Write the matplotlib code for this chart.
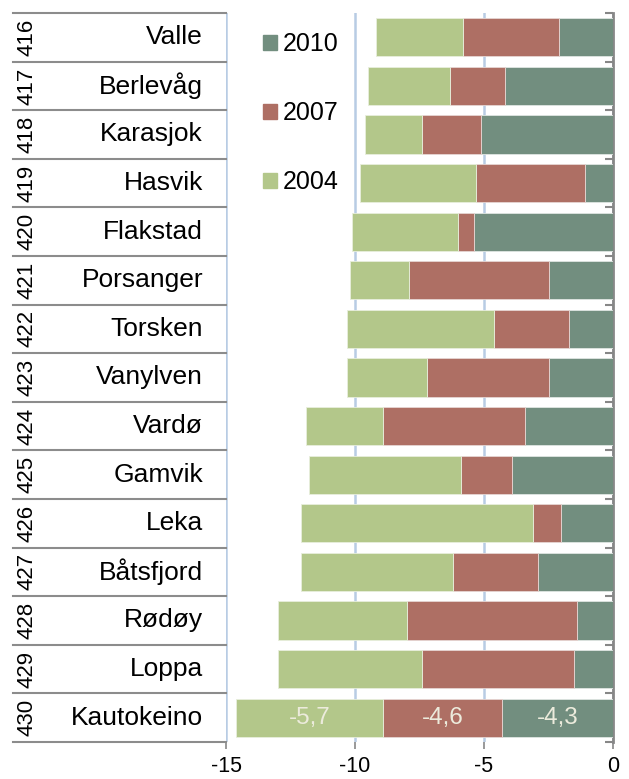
import numpy as np
import matplotlib
matplotlib.use('Agg')
import matplotlib.pyplot as plt
from matplotlib.patches import Patch

plt.rcParams['font.family'] = ['Liberation Sans', 'DejaVu Sans']

row_ids = ['416', '417', '418', '419', '420', '421', '422', '423', '424',
           '425', '426', '427', '428', '429', '430']
names = ['Valle', 'Berlevåg', 'Karasjok', 'Hasvik', 'Flakstad', 'Porsanger',
         'Torsken', 'Vanylven', 'Vardø', 'Gamvik', 'Leka', 'Båtsfjord',
         'Rødøy', 'Loppa', 'Kautokeino']
v2010 = [-2.1, -4.2, -5.1, -1.1, -5.4, -2.5, -1.7, -2.5, -3.4, -3.9, -2.0, -2.9, -1.4, -1.5, -4.3]
v2007 = [-3.7, -2.1, -2.3, -4.2, -0.6, -5.4, -2.9, -4.7, -5.5, -2.0, -1.1, -3.3, -6.6, -5.9, -4.6]
v2004 = [-3.4, -3.2, -2.2, -4.5, -4.1, -2.3, -5.7, -3.1, -3.0, -5.9, -9.0, -5.9, -5.0, -5.6, -5.7]

c2010 = '#728e7f'
c2007 = '#ae6f64'
c2004 = '#b3c78a'

fig = plt.figure(figsize=(6.29, 7.79), dpi=100)
ax = fig.add_axes([226 / 629, 1 - 742 / 779, 387 / 629, 729 / 779])

y = np.arange(len(names))
a10 = np.array(v2010)
a07 = np.array(v2007)
a04 = np.array(v2004)
h = 0.79
ax.barh(y, a10, height=h, color=c2010, edgecolor='#dfe6e2', linewidth=0.6, zorder=3)
ax.barh(y, a07, left=a10, height=h, color=c2007, edgecolor='#e6d6d3', linewidth=0.6, zorder=3)
ax.barh(y, a04, left=a10 + a07, height=h, color=c2004, edgecolor='#e8eedd', linewidth=0.6, zorder=3)

# value labels on last row
i = len(names) - 1
lab_col = '#ecebdc'
for left, w in [(0, a10[i]), (a10[i], a07[i]), (a10[i] + a07[i], a04[i])]:
    ax.text(left + w / 2, i, f'{w:.1f}'.replace('.', ','), ha='center', va='center',
            fontsize=17.5, color=lab_col, zorder=4)

ax.set_xlim(-15, 0)
ax.set_ylim(len(names) - 0.5, -0.5)
ax.set_xticks([-15, -10, -5, 0])
ax.set_xticklabels(['-15', '-10', '-5', '0'], fontsize=15.5)
ax.tick_params(axis='x', length=5, width=1.2, color='#878787', pad=5)
ax.xaxis.grid(True, color='#b8cce4', linewidth=1.8, zorder=0)
ax.set_axisbelow(True)

ax.yaxis.tick_right()
ax.set_yticks(np.arange(len(names) + 1) - 0.5)
ax.set_yticklabels([])
ax.tick_params(axis='y', direction='in', length=6, width=1.5, color='#878787')

for s in ['top', 'bottom', 'left']:
    ax.spines[s].set_visible(False)
ax.spines['right'].set_color('#878787')
ax.spines['right'].set_linewidth(2)

# left table
x0 = (13 - 226) / 387
for b in np.arange(len(names) + 1) - 0.5:
    ax.plot([x0, 0], [b, b], transform=ax.get_yaxis_transform(), color='#8c8c8c',
            linewidth=1.5, clip_on=False, zorder=1)
for k in range(len(names)):
    ax.text((27 - 226) / 387, k, row_ids[k], rotation=90, ha='center', va='center',
            fontsize=16, transform=ax.get_yaxis_transform())
    ax.text((203 - 226) / 387, k, names[k], ha='right', va='center',
            fontsize=19, transform=ax.get_yaxis_transform())

handles = [Patch(color=c2010), Patch(color=c2007), Patch(color=c2004)]
ax.legend(handles, ['2010', '2007', '2004'], loc='upper left',
          bbox_to_anchor=((263 - 226) / 387, 1 - 19 / 729), frameon=False,
          fontsize=18, handlelength=0.55, handleheight=0.55, handletextpad=0.25,
          labelspacing=1.8, borderpad=0, borderaxespad=0)

fig.savefig('out.png', dpi=100)
